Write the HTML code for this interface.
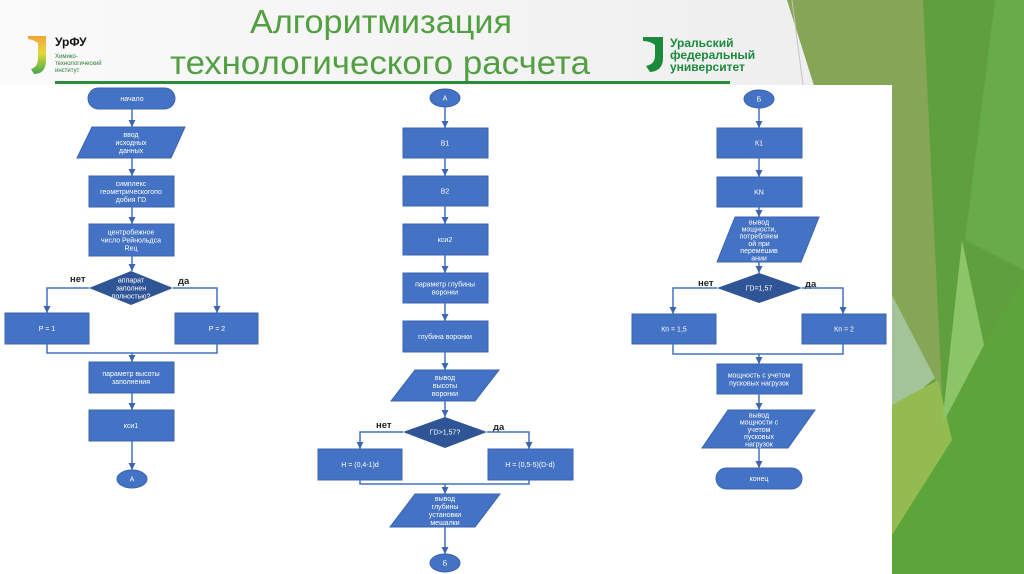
<!DOCTYPE html>
<html><head><meta charset="utf-8"><style>
html,body{margin:0;padding:0;width:1024px;height:574px;overflow:hidden;background:#fff}
svg{display:block}
.t{font-family:"Liberation Sans","DejaVu Sans",sans-serif;font-size:7px;fill:#fff;text-anchor:middle}
.l{font-family:"Liberation Sans","DejaVu Sans",sans-serif;font-size:9.5px;font-weight:bold;fill:#222}
.b{fill:#4472c4;stroke:#3b64b0;stroke-width:1}
.c{fill:none;stroke:#4472c4;stroke-width:1.5}
</style></head><body>
<svg width="1024" height="574" viewBox="0 0 1024 574" xmlns="http://www.w3.org/2000/svg">
<defs>
<linearGradient id="hg" x1="0" y1="0" x2="1" y2="0">
<stop offset="0" stop-color="#fafafa"/><stop offset="1" stop-color="#ececec"/>
</linearGradient>
<linearGradient id="jg" x1="0" y1="0" x2="0" y2="1">
<stop offset="0" stop-color="#f3a43a"/><stop offset="0.45" stop-color="#e6d83c"/><stop offset="1" stop-color="#3fa848"/>
</linearGradient>
<marker id="a" markerUnits="userSpaceOnUse" markerWidth="8" markerHeight="7" refX="7" refY="3.5" orient="auto">
<path d="M0,0 L7,3.5 L0,7 z" fill="#3d66b0"/>
</marker>
</defs>

<!-- header background -->
<rect x="0" y="0" width="1024" height="574" fill="url(#hg)"/>

<!-- green decoration -->
<polygon points="787,0 1024,0 1024,574 850,574 817,85" fill="#5f9f3d"/>
<polygon points="787,0 923,0 942,395 892,295 850,200" fill="#86a556"/>
<polygon points="995,0 1024,0 1024,270 965,240" fill="#68ab49"/>
<polygon points="1024,280 1024,574 892,574 892,490" fill="#5da43b"/>
<polygon points="892,295 935,378 892,415" fill="#a3c398"/>
<polygon points="892,405 938,380 952,440 892,535" fill="#93bb50"/>
<polygon points="962,240 984,345 942,425" fill="#8cc46a"/>
<line x1="792" y1="0" x2="803" y2="85" stroke="#c4c4c4" stroke-width="1"/>

<!-- title -->
<text x="381" y="33" textLength="262" lengthAdjust="spacingAndGlyphs" font-family="Liberation Sans, sans-serif" font-size="33" fill="#52a042" text-anchor="middle">Алгоритмизация</text>
<text x="380" y="74" textLength="420" lengthAdjust="spacingAndGlyphs" font-family="Liberation Sans, sans-serif" font-size="33" fill="#52a042" text-anchor="middle">технологического расчета</text>
<rect x="55" y="81" width="675" height="3" fill="#2d8b3c"/>

<!-- left logo -->
<path d="M28,36 L46,36 L46,60 Q46,74 34,74 L31,69 Q38,67 38,58 L38,43 Q34,40 28,39 Z" fill="url(#jg)"/>
<text x="55" y="46" font-family="Liberation Sans, sans-serif" font-size="12" font-weight="bold" fill="#111">УрФУ</text>
<text x="55" y="58" font-family="Liberation Sans, sans-serif" font-size="6" fill="#2d7a35">Химико-</text>
<text x="55" y="65" font-family="Liberation Sans, sans-serif" font-size="6" fill="#2d7a35">технологический</text>
<text x="55" y="72" font-family="Liberation Sans, sans-serif" font-size="6" fill="#2d7a35">институт</text>

<!-- right logo -->
<path d="M643,37 L663,37 L663,58 Q663,71 650,72 L646,66 Q655,64 655,56 L655,45 Q650,41 643,41 Z" fill="#1a8a3c"/>
<text x="670" y="47" font-family="Liberation Sans, sans-serif" font-size="12" font-weight="bold" fill="#1a8a3c">Уральский</text>
<text x="670" y="59" font-family="Liberation Sans, sans-serif" font-size="12" font-weight="bold" fill="#1a8a3c">федеральный</text>
<text x="670" y="71" font-family="Liberation Sans, sans-serif" font-size="12" font-weight="bold" fill="#1a8a3c">университет</text>

<!-- image area -->
<rect x="0" y="85" width="892" height="489" fill="#ffffff"/>

<!-- ===== LEFT COLUMN ===== -->
<rect class="b" x="88" y="88" width="87" height="21" rx="10.5"/>
<text class="t" x="132" y="101">начало</text>
<line class="c" x1="132" y1="109" x2="132" y2="127" marker-end="url(#a)"/>
<polygon class="b" points="92,127 185,127 171,158 77,158"/>
<text class="t" x="131" y="137">ввод</text><text class="t" x="131" y="145">исходных</text><text class="t" x="131" y="153">данных</text>
<line class="c" x1="132" y1="158" x2="132" y2="176" marker-end="url(#a)"/>
<rect class="b" x="89" y="176" width="85" height="31"/>
<text class="t" x="131" y="186">симплекс</text><text class="t" x="131" y="194">геометрическогопо</text><text class="t" x="131" y="202">добия ГD</text>
<line class="c" x1="132" y1="207" x2="132" y2="224" marker-end="url(#a)"/>
<rect class="b" x="89" y="224" width="85" height="32"/>
<text class="t" x="131" y="234.5">центробежное</text><text class="t" x="131" y="242.5">число Рейнольдса</text><text class="t" x="131" y="250.5">Reц</text>
<line class="c" x1="132" y1="256" x2="132" y2="271" marker-end="url(#a)"/>
<polygon points="131,271 173,288 131,305 89,288" fill="#2f5597"/>
<text class="t" x="131" y="282.5">аппарат</text><text class="t" x="131" y="290.5">заполнен</text><text class="t" x="131" y="298.5">полностью?</text>
<text class="l" x="70" y="282">нет</text>
<text class="l" x="178" y="284">да</text>
<polyline class="c" points="89,288 47,288 47,313" marker-end="url(#a)"/>
<polyline class="c" points="173,288 217,288 217,313" marker-end="url(#a)"/>
<rect class="b" x="5" y="313" width="84" height="31"/>
<text class="t" x="47" y="331">P = 1</text>
<rect class="b" x="175" y="313" width="83" height="31"/>
<text class="t" x="217" y="331">P = 2</text>
<polyline class="c" points="47,344 47,353 217,353 217,344"/>
<line class="c" x1="132" y1="353" x2="132" y2="362" marker-end="url(#a)"/>
<rect class="b" x="89" y="362" width="85" height="31"/>
<text class="t" x="131" y="376">параметр высоты</text><text class="t" x="131" y="384">заполнения</text>
<line class="c" x1="132" y1="393" x2="132" y2="410" marker-end="url(#a)"/>
<rect class="b" x="89" y="410" width="85" height="31"/>
<text class="t" x="131" y="428">кси1</text>
<line class="c" x1="132" y1="441" x2="132" y2="470" marker-end="url(#a)"/>
<ellipse class="b" cx="132" cy="479" rx="15" ry="9"/>
<text class="t" x="132" y="481.5">А</text>

<!-- ===== MIDDLE COLUMN ===== -->
<ellipse class="b" cx="445" cy="98" rx="15" ry="9"/>
<text class="t" x="445" y="100.5">А</text>
<line class="c" x1="445" y1="107" x2="445" y2="128" marker-end="url(#a)"/>
<rect class="b" x="403" y="128" width="85" height="30"/>
<text class="t" x="445" y="145.5">В1</text>
<line class="c" x1="445" y1="158" x2="445" y2="176" marker-end="url(#a)"/>
<rect class="b" x="403" y="176" width="85" height="30"/>
<text class="t" x="445" y="193.5">В2</text>
<line class="c" x1="445" y1="206" x2="445" y2="224" marker-end="url(#a)"/>
<rect class="b" x="403" y="224" width="85" height="31"/>
<text class="t" x="445" y="242">кси2</text>
<line class="c" x1="445" y1="255" x2="445" y2="273" marker-end="url(#a)"/>
<rect class="b" x="403" y="273" width="85" height="30"/>
<text class="t" x="445" y="286.5">параметр глубины</text><text class="t" x="445" y="294.5">воронки</text>
<line class="c" x1="445" y1="303" x2="445" y2="321" marker-end="url(#a)"/>
<rect class="b" x="403" y="321" width="85" height="31"/>
<text class="t" x="445" y="339">глубина воронки</text>
<line class="c" x1="445" y1="352" x2="445" y2="370" marker-end="url(#a)"/>
<polygon class="b" points="415,370 499,370 475,401 391,401"/>
<text class="t" x="445" y="380">вывод</text><text class="t" x="445" y="388">высоты</text><text class="t" x="445" y="396">воронки</text>
<line class="c" x1="445" y1="401" x2="445" y2="417" marker-end="url(#a)"/>
<polygon points="445,417 487,432 445,448 403,432" fill="#2f5597"/>
<text class="t" x="445" y="434.5">ГD&gt;1,57?</text>
<text class="l" x="376" y="428">нет</text>
<text class="l" x="493" y="430">да</text>
<polyline class="c" points="403,432 360,432 360,449" marker-end="url(#a)"/>
<polyline class="c" points="487,432 529,432 529,449" marker-end="url(#a)"/>
<rect class="b" x="318" y="449" width="84" height="31"/>
<text class="t" x="360" y="467">H = (0,4-1)d</text>
<rect class="b" x="488" y="449" width="85" height="31"/>
<text class="t" x="530" y="467">H = (0,5-5)(D-d)</text>
<polyline class="c" points="360,480 360,484 529,484 529,480"/>
<line class="c" x1="445" y1="484" x2="445" y2="494" marker-end="url(#a)"/>
<polygon class="b" points="415,494 500,494 475,527 390,527"/>
<text class="t" x="445" y="501">вывод</text><text class="t" x="445" y="509">глубины</text><text class="t" x="445" y="517">установки</text><text class="t" x="445" y="525">мешалки</text>
<line class="c" x1="445" y1="527" x2="445" y2="554" marker-end="url(#a)"/>
<ellipse class="b" cx="445" cy="563" rx="15" ry="9"/>
<text class="t" x="445" y="565.5">Б</text>

<!-- ===== RIGHT COLUMN ===== -->
<ellipse class="b" cx="759" cy="99" rx="15" ry="9"/>
<text class="t" x="759" y="101.5">Б</text>
<line class="c" x1="759" y1="108" x2="759" y2="128" marker-end="url(#a)"/>
<rect class="b" x="717" y="128" width="85" height="30"/>
<text class="t" x="759" y="145.5">К1</text>
<line class="c" x1="759" y1="158" x2="759" y2="177" marker-end="url(#a)"/>
<rect class="b" x="717" y="177" width="85" height="30"/>
<text class="t" x="759" y="194.5">KN</text>
<line class="c" x1="759" y1="207" x2="759" y2="217" marker-end="url(#a)"/>
<polygon class="b" points="735,217 819,217 801,262 717,262"/>
<text class="t" x="759" y="224.3">вывод</text><text class="t" x="759" y="231.5">мощности,</text><text class="t" x="759" y="238.7">потребляем</text><text class="t" x="759" y="245.9">ой при</text><text class="t" x="759" y="253.1">перемешив</text><text class="t" x="759" y="260.3">ании</text>
<line class="c" x1="759" y1="262" x2="759" y2="273" marker-end="url(#a)"/>
<polygon points="759,273 802,288 759,303 717,288" fill="#2f5597"/>
<text class="t" x="759" y="290.5">ГD=1,57</text>
<text class="l" x="698" y="286">нет</text>
<text class="l" x="805" y="287">да</text>
<polyline class="c" points="717,288 673,288 673,314" marker-end="url(#a)"/>
<polyline class="c" points="802,288 843,288 843,314" marker-end="url(#a)"/>
<rect class="b" x="632" y="314" width="84" height="30"/>
<text class="t" x="674" y="331.5">Кп = 1,5</text>
<rect class="b" x="802" y="314" width="84" height="30"/>
<text class="t" x="844" y="331.5">Кп = 2</text>
<polyline class="c" points="673,344 673,354 843,354 843,344"/>
<line class="c" x1="759" y1="354" x2="759" y2="364" marker-end="url(#a)"/>
<rect class="b" x="717" y="364" width="85" height="30"/>
<text class="t" x="759" y="377.5">мощность с учетом</text><text class="t" x="759" y="385.5">пусковых нагрузок</text>
<line class="c" x1="759" y1="394" x2="759" y2="410" marker-end="url(#a)"/>
<polygon class="b" points="728,410 815,410 788,448 702,448"/>
<text class="t" x="759" y="417.5">вывод</text><text class="t" x="759" y="424.7">мощности с</text><text class="t" x="759" y="432">учетом</text><text class="t" x="759" y="439.2">пусковых</text><text class="t" x="759" y="446.5">нагрузок</text>
<line class="c" x1="759" y1="448" x2="759" y2="468" marker-end="url(#a)"/>
<rect class="b" x="716" y="468" width="86" height="21" rx="10.5"/>
<text class="t" x="759" y="481">конец</text>
</svg>
</body></html>
